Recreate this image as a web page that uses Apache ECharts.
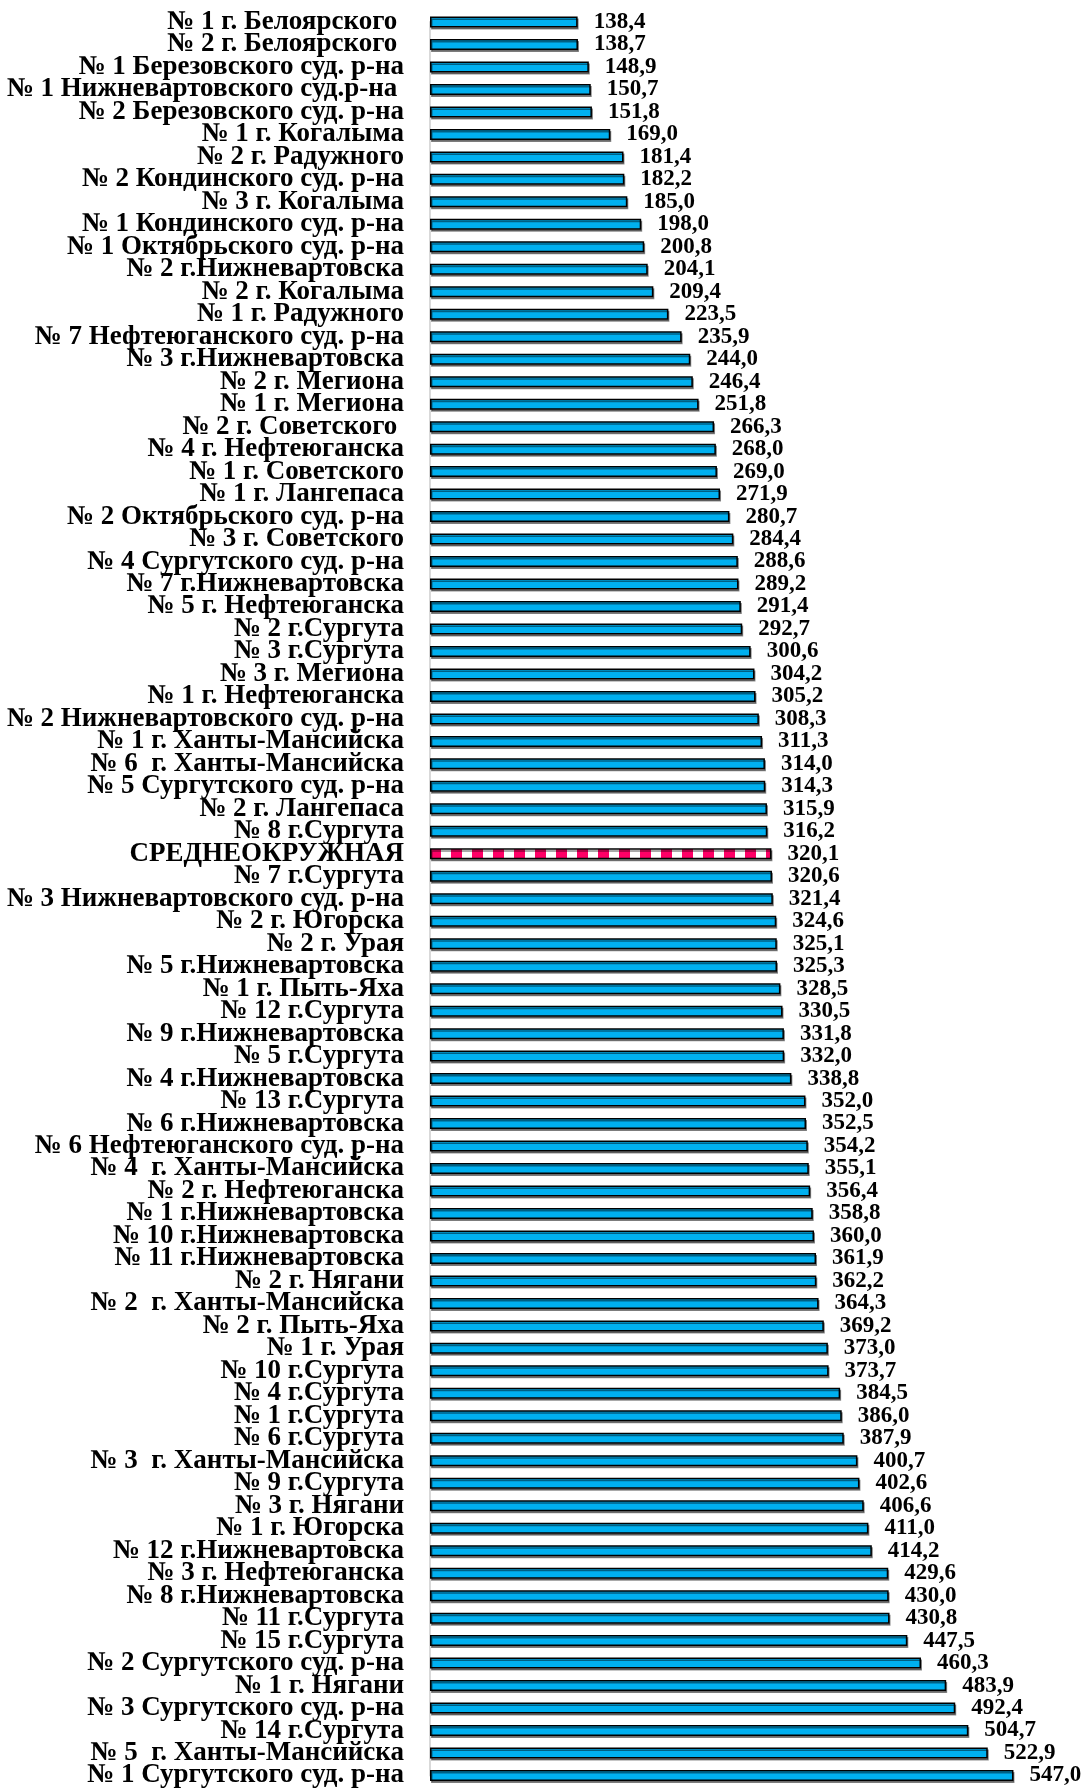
<!DOCTYPE html>
<html>
<head>
<meta charset="utf-8">
<script src="https://cdn.jsdelivr.net/npm/echarts@6/dist/echarts.min.js"></script>
<style>
html,body{margin:0;padding:0;background:#fff;}
#chart{width:1085px;height:1789px;}
</style>
</head>
<body>
<div id="chart"></div>
<script>
const categories = [
  "№ 1 г. Белоярского ", "№ 2 г. Белоярского ", "№ 1 Березовского суд. р-на",
  "№ 1 Нижневартовского суд.р-на ", "№ 2 Березовского суд. р-на", "№ 1 г. Когалыма",
  "№ 2 г. Радужного", "№ 2 Кондинского суд. р-на", "№ 3 г. Когалыма",
  "№ 1 Кондинского суд. р-на", "№ 1 Октябрьского суд. р-на", "№ 2 г.Нижневартовска",
  "№ 2 г. Когалыма", "№ 1 г. Радужного", "№ 7 Нефтеюганского суд. р-на",
  "№ 3 г.Нижневартовска", "№ 2 г. Мегиона", "№ 1 г. Мегиона",
  "№ 2 г. Советского ", "№ 4 г. Нефтеюганска", "№ 1 г. Советского",
  "№ 1 г. Лангепаса", "№ 2 Октябрьского суд. р-на", "№ 3 г. Советского",
  "№ 4 Сургутского суд. р-на", "№ 7 г.Нижневартовска", "№ 5 г. Нефтеюганска",
  "№ 2 г.Сургута", "№ 3 г.Сургута", "№ 3 г. Мегиона",
  "№ 1 г. Нефтеюганска", "№ 2 Нижневартовского суд. р-на", "№ 1 г. Ханты-Мансийска",
  "№ 6  г. Ханты-Мансийска", "№ 5 Сургутского суд. р-на", "№ 2 г. Лангепаса",
  "№ 8 г.Сургута", "СРЕДНЕОКРУЖНАЯ", "№ 7 г.Сургута",
  "№ 3 Нижневартовского суд. р-на", "№ 2 г. Югорска", "№ 2 г. Урая",
  "№ 5 г.Нижневартовска", "№ 1 г. Пыть-Яха", "№ 12 г.Сургута",
  "№ 9 г.Нижневартовска", "№ 5 г.Сургута", "№ 4 г.Нижневартовска",
  "№ 13 г.Сургута", "№ 6 г.Нижневартовска", "№ 6 Нефтеюганского суд. р-на",
  "№ 4  г. Ханты-Мансийска", "№ 2 г. Нефтеюганска", "№ 1 г.Нижневартовска",
  "№ 10 г.Нижневартовска", "№ 11 г.Нижневартовска", "№ 2 г. Нягани",
  "№ 2  г. Ханты-Мансийска", "№ 2 г. Пыть-Яха", "№ 1 г. Урая",
  "№ 10 г.Сургута", "№ 4 г.Сургута", "№ 1 г.Сургута",
  "№ 6 г.Сургута", "№ 3  г. Ханты-Мансийска", "№ 9 г.Сургута",
  "№ 3 г. Нягани", "№ 1 г. Югорска", "№ 12 г.Нижневартовска",
  "№ 3 г. Нефтеюганска", "№ 8 г.Нижневартовска", "№ 11 г.Сургута",
  "№ 15 г.Сургута", "№ 2 Сургутского суд. р-на", "№ 1 г. Нягани",
  "№ 3 Сургутского суд. р-на", "№ 14 г.Сургута", "№ 5  г. Ханты-Мансийска",
  "№ 1 Сургутского суд. р-на"
];
const values = [
  138.4, 138.7, 148.9, 150.7, 151.8, 169.0, 181.4, 182.2, 185.0, 198.0,
  200.8, 204.1, 209.4, 223.5, 235.9, 244.0, 246.4, 251.8, 266.3, 268.0,
  269.0, 271.9, 280.7, 284.4, 288.6, 289.2, 291.4, 292.7, 300.6, 304.2,
  305.2, 308.3, 311.3, 314.0, 314.3, 315.9, 316.2, 320.1, 320.6, 321.4,
  324.6, 325.1, 325.3, 328.5, 330.5, 331.8, 332.0, 338.8, 352.0, 352.5,
  354.2, 355.1, 356.4, 358.8, 360.0, 361.9, 362.2, 364.3, 369.2, 373.0,
  373.7, 384.5, 386.0, 387.9, 400.7, 402.6, 406.6, 411.0, 414.2, 429.6,
  430.0, 430.8, 447.5, 460.3, 483.9, 492.4, 504.7, 522.9, 547.0
];
const averageCategory = "СРЕДНЕОКРУЖНАЯ";

// stripe pattern for the average bar
const pat = document.createElement('canvas');
pat.width = 21; pat.height = 11;
const pctx = pat.getContext('2d');
pctx.fillStyle = '#ffffff'; pctx.fillRect(0, 0, 21, 11);
pctx.fillStyle = '#ff0066'; pctx.fillRect(10, 0, 11, 11);

const seriesData = values.map((v, i) => {
  if (categories[i] === averageCategory) {
    return { value: v, itemStyle: { color: { image: pat, repeat: 'repeat' }, borderColor: '#000', borderWidth: 1.5 } };
  }
  return v;
});

const chart = echarts.init(document.getElementById('chart'), null, { renderer: 'canvas' });
chart.setOption({
  animation: false,
  backgroundColor: '#fff',
  grid: { left: 430, top: 22, width: 640, bottom: 13.5, containLabel: false },
  xAxis: { type: 'value', min: 0, max: 600, show: false },
  yAxis: {
    type: 'category',
    data: categories,
    inverse: true,
    boundaryGap: false,
    axisLine: { show: true, lineStyle: { color: '#d9d9d9', width: 2 } },
    axisTick: { show: false },
    splitLine: { show: false },
    axisLabel: {
      interval: 0,
      margin: 26,
      color: '#000',
      fontFamily: 'Liberation Serif',
      fontWeight: 'bold',
      fontSize: 27
    }
  },
  series: [{
    type: 'bar',
    data: seriesData,
    barWidth: 11,
    clip: true,
    itemStyle: {
      color: '#00b0f0',
      borderColor: '#000',
      borderWidth: 1.5,
      shadowColor: 'rgba(0,0,0,0.45)',
      shadowOffsetX: 1,
      shadowOffsetY: 2,
      shadowBlur: 0
    },
    label: {
      show: true,
      position: 'right',
      distance: 16,
      color: '#000',
      fontFamily: 'Liberation Serif',
      fontWeight: 'bold',
      fontSize: 23,
      formatter: p => p.value.toFixed(1).replace('.', ',')
    }
  }]
});
</script>
</body>
</html>
